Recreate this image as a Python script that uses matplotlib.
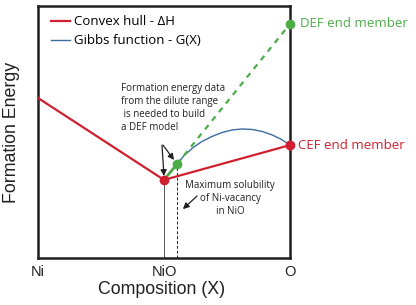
import matplotlib
matplotlib.use('Agg')
import matplotlib.pyplot as plt
from matplotlib.lines import Line2D

# ── Data (composition fraction 0..1, energy in arbitrary units 0..1) ─────────
tick_pos    = [0.0, 0.5, 1.0]
tick_labels = ['Ni', 'NiO', 'O']

hull_x = [0.0, 0.5, 1.0]
hull_y = [0.635, 0.31, 0.448]

def_x = [0.552, 1.0]
def_y = [0.373, 0.929]

dilute_x = [0.5, 0.552]
dilute_y = [0.31, 0.373]

gibbs_x = [0.5, 0.552, 0.58, 0.615, 0.65, 0.69, 0.73, 0.77, 0.81, 0.85,
           0.89, 0.93, 0.965, 1.0]
gibbs_y = [0.31, 0.373, 0.407, 0.438, 0.462, 0.482, 0.498, 0.508, 0.512,
           0.510, 0.502, 0.488, 0.471, 0.448]

RED   = '#d0202f'
GREEN = '#4cad48'
BLUE  = '#3d6c9e'
INK   = '#231f20'

SANS = ['Open Sans', 'DejaVu Sans']
ARIAL = ['Liberation Sans', 'DejaVu Sans']

fig = plt.figure(figsize=(4.16, 3.05), dpi=100)
ax = fig.add_axes([38 / 416, 47 / 305, 252 / 416, 252 / 305])
ax.set_xlim(0, 1)
ax.set_ylim(0, 1)

# reference verticals
ax.plot([0.5, 0.5], [0, hull_y[1]], color='#555555', lw=0.7, zorder=1)
ax.plot([dilute_x[1], dilute_x[1]], [0, dilute_y[1]], color=INK, lw=0.7,
        ls=(0, (3, 2)), zorder=1)

ax.plot(gibbs_x, gibbs_y, color=BLUE, lw=1.0, zorder=2)
ax.plot(hull_x, hull_y, color=RED, lw=1.6, zorder=3)
ax.plot(def_x, def_y, color=GREEN, lw=1.6, ls=(0, (2.5, 2.5)), zorder=3)
ax.plot(dilute_x, dilute_y, color=GREEN, lw=2.0, zorder=4)

ax.plot([hull_x[1], hull_x[2]], [hull_y[1], hull_y[2]], 'o', color=RED,
        ms=6, zorder=5)
ax.plot([dilute_x[1], def_x[1]], [dilute_y[1], def_y[1]], 'o', color=GREEN,
        ms=6, zorder=5, clip_on=False)
ax.plot([hull_x[2]], [hull_y[2]], 'o', color=RED, ms=6, zorder=6, clip_on=False)

# annotations
arrow = dict(arrowstyle='-|>', color=INK, lw=0.9, mutation_scale=9,
             shrinkA=0, shrinkB=0)
ax.annotate('', xy=(0.5, 0.325), xytext=(0.492, 0.448), arrowprops=arrow)
ax.annotate('', xy=(0.54, 0.389), xytext=(0.496, 0.448), arrowprops=arrow)
ax.annotate('', xy=(0.575, 0.194), xytext=(0.631, 0.246), arrowprops=arrow)

ax.text(0.329, 0.694, 'Formation energy data\nfrom the dilute range\n is needed to build\na DEF model',
        ha='left', va='top', fontsize=7, family=SANS, color=INK, linespacing=1.25)
ax.text(0.762, 0.31, 'Maximum solubility\nof Ni-vacancy\nin NiO',
        ha='center', va='top', fontsize=7, family=SANS, color=INK, linespacing=1.25)

ax.text(1.04, def_y[1], 'DEF end member', color=GREEN, fontsize=9.5,
        family=SANS, va='center', ha='left', transform=ax.transData, clip_on=False)
ax.text(1.03, hull_y[2], 'CEF end member', color=RED, fontsize=9.5,
        family=SANS, va='center', ha='left', transform=ax.transData, clip_on=False)

handles = [Line2D([], [], color=RED, lw=1.6), Line2D([], [], color=BLUE, lw=1.0)]
ax.legend(handles, ['Convex hull - ΔH', 'Gibbs function - G(X)'],
          loc='upper left', bbox_to_anchor=(0.013, 1.0), frameon=False,
          handlelength=1.5, handletextpad=0.3, labelspacing=0.45,
          prop={'family': SANS, 'size': 9.5}, borderaxespad=0.3)

ax.set_xticks(tick_pos)
ax.set_xticklabels(tick_labels, family=ARIAL, fontsize=10.5, color=INK)
ax.tick_params(axis='x', length=0, pad=5)
ax.set_yticks([])
for sp in ax.spines.values():
    sp.set_linewidth(1.8)
    sp.set_color(INK)

fig.text(12 / 416, 1 - 132 / 305, 'Formation Energy', rotation=90,
         ha='center', va='center', fontsize=12.8, family=ARIAL, color=INK)
fig.text(162 / 416, 1 - 290 / 305, 'Composition (X)',
         ha='center', va='center', fontsize=12.8, family=ARIAL, color=INK)

fig.savefig('out.png', dpi=100)
